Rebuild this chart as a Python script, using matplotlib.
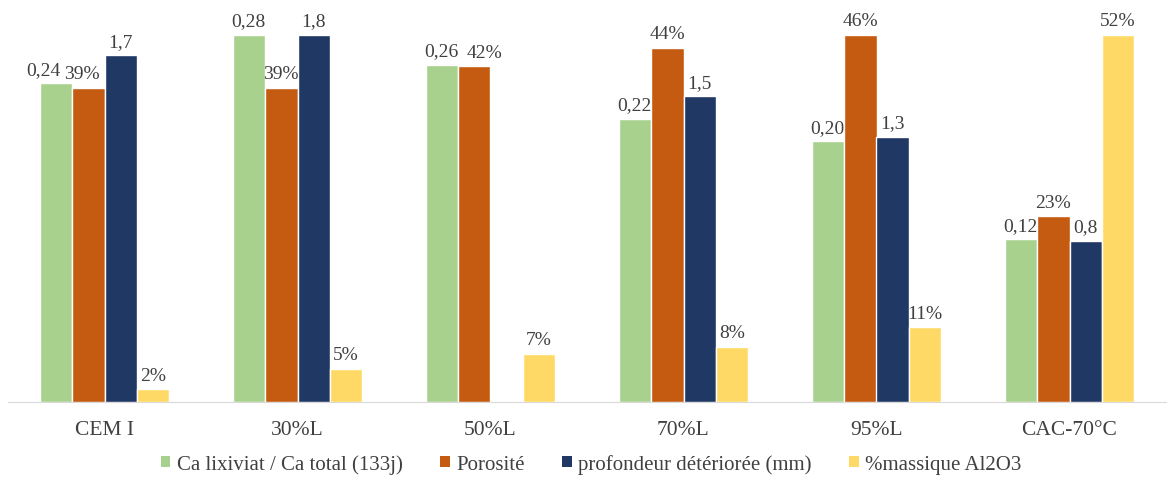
import numpy as np
import matplotlib.pyplot as plt
from matplotlib.patches import Patch

plt.rcParams['font.family'] = ['Liberation Serif', 'DejaVu Serif']

categories = ['CEM I', '30%L', '50%L', '70%L', '95%L', 'CAC-70°C']
ca_ratio = [0.243, 0.28, 0.257, 0.216, 0.199, 0.124]
porosite = [39.4, 39.4, 42.1, 44.4, 46, 23.3]
profondeur = [1.7, 1.8, np.nan, 1.5, 1.3, 0.79]
al2o3 = [1.8, 4.7, 6.8, 7.8, 10.6, 52]

series = [
    ('Ca lixiviat / Ca total (133j)', ca_ratio, '#A9D18E', lambda v: f'{v:.2f}'.replace('.', ',')),
    ('Porosité', porosite, '#C55A11', lambda v: f'{v:.0f}%'),
    ('profondeur détériorée (mm)', profondeur, '#203864', lambda v: f'{v:.1f}'.replace('.', ',')),
    ('%massique Al2O3', al2o3, '#FFD966', lambda v: f'{v:.0f}%'),
]

# labels nudged sideways in the original so they don't collide: (series, category) -> points
nudge = {(0, 0): -9, (1, 0): -4.5, (1, 2): 7}

fig = plt.figure(figsize=(11.73, 4.81), dpi=100)
ax = fig.add_axes([8 / 1173, 1 - 403 / 481, 1158 / 1173, (403 - 36) / 481])

x = np.arange(len(categories))
w = 0.168
txt = '#404040'

axes = [ax] + [ax.twinx() for _ in range(3)]
for i, (name, vals, col, fmt) in enumerate(series):
    a = axes[i]
    vals = np.array(vals, dtype=float)
    pos = x + (i - 1.5) * w
    a.bar(pos, np.nan_to_num(vals), w, color=col, edgecolor='white', linewidth=1)
    a.set_ylim(0, np.nanmax(vals))
    for j, (p, v) in enumerate(zip(pos, vals)):
        if np.isnan(v):
            continue
        a.annotate(fmt(v), (p, v), xytext=(nudge.get((i, j), 0), 4), textcoords='offset points',
                   ha='center', va='bottom', fontsize=14, color=txt, clip_on=False)
    a.set_yticks([])
    for s in a.spines.values():
        s.set_visible(False)

ax.spines['bottom'].set_visible(True)
ax.spines['bottom'].set_color('#D9D9D9')
ax.set_xlim(-0.5, len(categories) - 0.5)
ax.set_xticks(x)
ax.set_xticklabels(categories, fontsize=15.5, color=txt)
ax.tick_params(axis='x', length=0, pad=13)

handles = [Patch(facecolor=c, label=n) for n, _, c, _ in series]
fig.legend(handles=handles, loc='center', bbox_to_anchor=(591 / 1173, 1 - 465 / 481), ncol=4,
           frameon=False, fontsize=15, labelcolor=txt, handlelength=0.47, handleheight=0.47,
           handletextpad=0.3, columnspacing=1.8)

fig.savefig('out.png', dpi=100)
